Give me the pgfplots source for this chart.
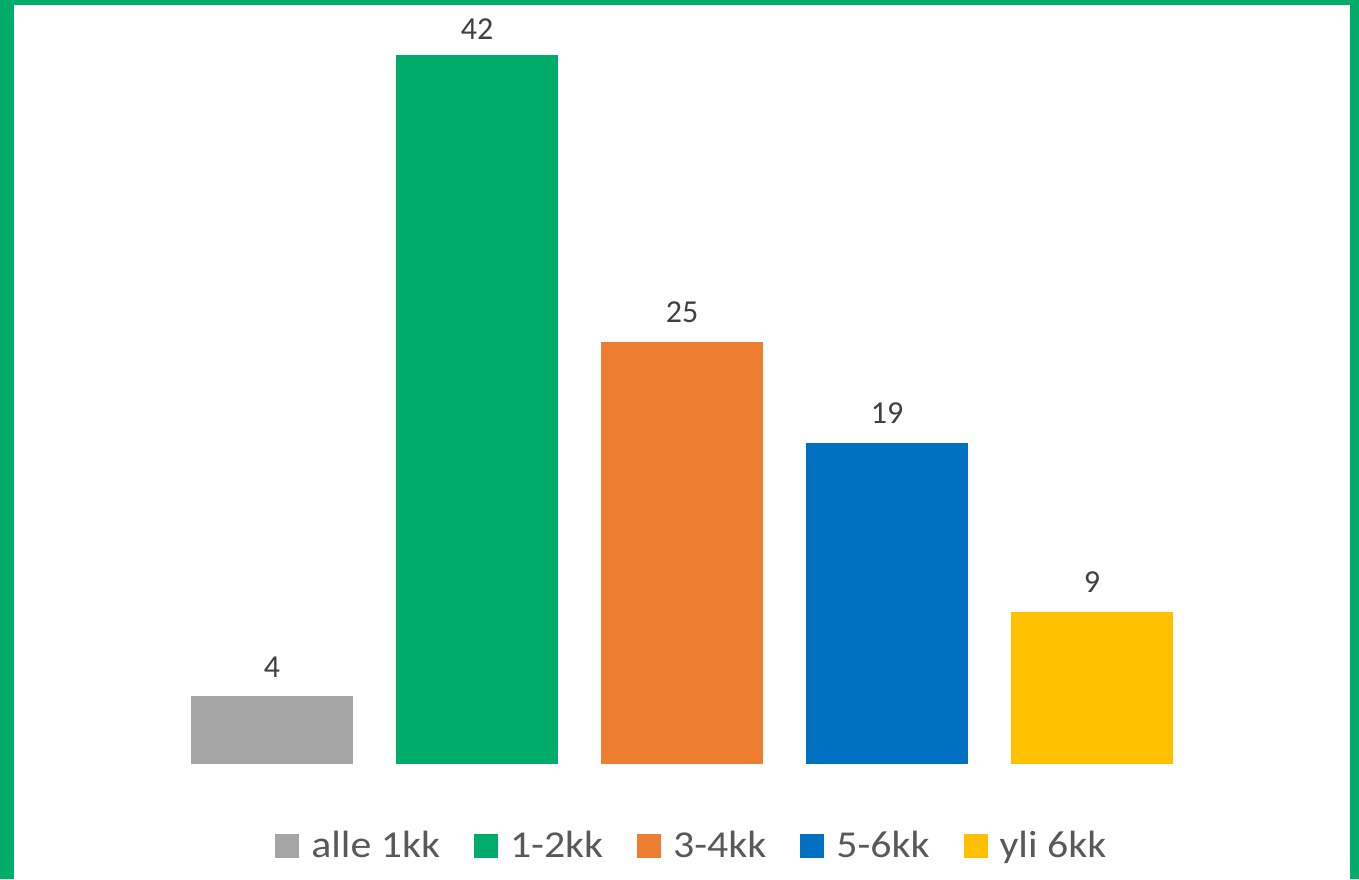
\documentclass[border=0pt]{standalone}
\usepackage{pgfplots}
\pgfplotsset{compat=1.18}
\usepackage{fontspec}
\setmainfont{Carlito}
\newfontfamily\legfont[FakeStretch=1.10]{Carlito}
\definecolor{cgray}{HTML}{A5A5A5}
\definecolor{cgreen}{HTML}{00AC69}
\definecolor{corange}{HTML}{ED7D31}
\definecolor{cblue}{HTML}{0070C0}
\definecolor{cyellow}{HTML}{FFC000}
\definecolor{lbl}{HTML}{404040}
\definecolor{leg}{HTML}{595959}
\begin{document}
\begin{tikzpicture}
\useasboundingbox (0,0) rectangle (679.5pt,439.5pt);
\fill[cgreen] (0,0) rectangle (679.5pt,439.5pt);
\fill[white] (7pt,0) rectangle (675pt,437pt);
\begin{axis}[at={(84.75pt,57.5pt)}, anchor=south west, scale only axis,
  width=512.5pt, height=354.5pt, hide axis,
  xmin=-0.5, xmax=4.5, ymin=0, ymax=42,
  ybar, bar width=81pt, bar shift=0pt, clip=false,
  /pgf/number format/assume math mode=true,
  nodes near coords,
  every node near coord/.append style={font=\fontsize{16}{19}\selectfont, text=lbl, inner sep=0pt, anchor=south, yshift=9.5pt},
  legend columns=-1,
  legend style={draw=none, fill=none, inner sep=0pt, at={(0.1029,-0.1157)}, anchor=west,
    font=\legfont\fontsize{19}{22}\selectfont, text=leg,
    nodes={inner sep=0pt},
    /tikz/every odd column/.append style={column sep=6pt},
    /tikz/every even column/.append style={column sep=17pt}},
  legend image code/.code={\fill[#1] (0pt,-6pt) rectangle (12pt,6pt);},
]
\addplot[fill=cgray, draw=none] coordinates {(0,4)};
\addplot[fill=cgreen, draw=none, every node near coord/.append style={yshift=-1.75pt}] coordinates {(1,42)};
\addplot[fill=corange, draw=none] coordinates {(2,25)};
\addplot[fill=cblue, draw=none] coordinates {(3,19)};
\addplot[fill=cyellow, draw=none] coordinates {(4,9)};
\legend{alle 1kk, 1-2kk, 3-4kk, 5-6kk, yli 6kk}
\end{axis}
\end{tikzpicture}
\end{document}
